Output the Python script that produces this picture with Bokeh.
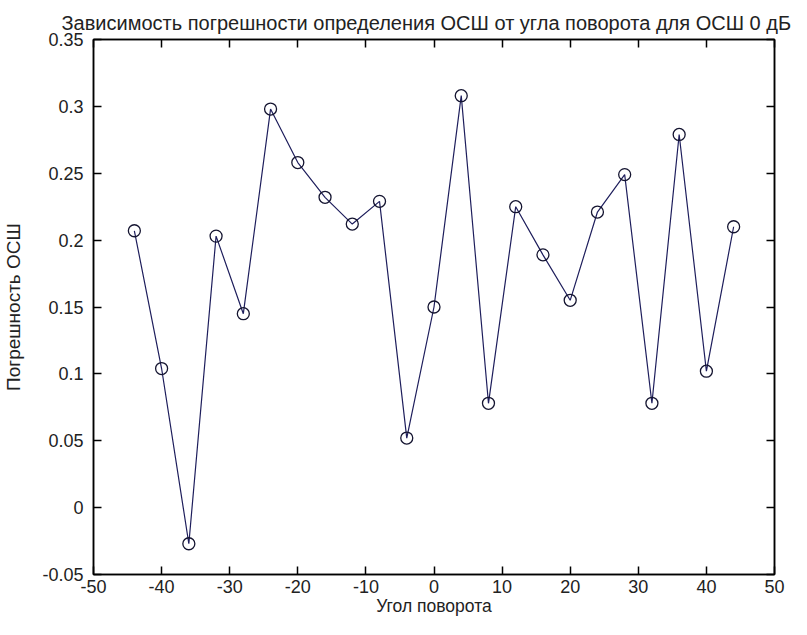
from bokeh.plotting import figure
from bokeh.models import LinearAxis, FixedTicker, Range1d
from bokeh.embed import file_html
from bokeh.resources import INLINE

# ---- data ----
angles = [-44, -40, -36, -32, -28, -24, -20, -16, -12, -8, -4, 0,
          4, 8, 12, 16, 20, 24, 28, 32, 36, 40, 44]
errors = [0.207, 0.104, -0.027, 0.203, 0.145, 0.298, 0.258, 0.232, 0.212,
          0.229, 0.052, 0.150, 0.308, 0.078, 0.225, 0.189, 0.155, 0.221,
          0.249, 0.078, 0.279, 0.102, 0.210]

x_ticks = [-50, -40, -30, -20, -10, 0, 10, 20, 30, 40, 50]
x_tick_labels = ["-50", "-40", "-30", "-20", "-10", "0", "10", "20", "30", "40", "50"]
y_ticks = [-0.05, 0.0, 0.05, 0.1, 0.15, 0.2, 0.25, 0.3, 0.35]
y_tick_labels = ["-0.05", "0", "0.05", "0.1", "0.15", "0.2", "0.25", "0.3", "0.35"]

title_text = "Зависимость погрешности определения ОСШ от угла поворота для ОСШ 0 дБ"
x_label = "Угол поворота"
y_label = "Погрешность ОСШ"

FONT = "Liberation Sans"
TXT = "#222222"

p = figure(width=791, height=619, output_backend="svg", toolbar_location=None,
           x_range=Range1d(-50, 50), y_range=Range1d(-0.05, 0.35),
           min_border_left=90, min_border_right=17, min_border_top=39,
           min_border_bottom=45, x_axis_label=x_label, y_axis_label=y_label)

p.background_fill_color = "white"
p.border_fill_color = "white"
p.outline_line_color = "black"
p.outline_line_width = 1.5
p.xgrid.visible = False
p.ygrid.visible = False

p.title.text = title_text
p.title.text_font = FONT
p.title.text_font_size = "20px"
p.title.text_font_style = "normal"
p.title.text_color = TXT
p.title.align = "left"
p.title.offset = -32
p.title.standoff = 12

xt = FixedTicker(ticks=x_ticks, minor_ticks=[])
yt = FixedTicker(ticks=y_ticks, minor_ticks=[])

bx = p.below[0]
ly = p.left[0]
bx.ticker = xt
ly.ticker = yt
bx.major_label_overrides = dict(zip(x_ticks, x_tick_labels))
ly.major_label_overrides = dict(zip(y_ticks, y_tick_labels))

for ax in (bx, ly):
    ax.axis_line_color = "black"
    ax.axis_line_width = 1.5
    ax.major_tick_line_color = "black"
    ax.major_tick_line_width = 1.5
    ax.major_tick_in = 8
    ax.major_tick_out = 0
    ax.minor_tick_in = 0
    ax.minor_tick_out = 0
    ax.major_label_text_font = FONT
    ax.major_label_text_font_size = "18px"
    ax.major_label_text_color = TXT
    ax.axis_label_text_font = FONT
    ax.axis_label_text_font_style = "normal"
    ax.axis_label_text_color = TXT

bx.axis_label_text_font_size = "17.5px"
ly.axis_label_text_font_size = "19px"
bx.major_label_standoff = 5
bx.axis_label_standoff = 0
ly.major_label_standoff = 10
ly.axis_label_standoff = 15

for loc, ticker in (("above", xt), ("right", yt)):
    ax = LinearAxis(ticker=ticker)
    ax.axis_line_color = "black"
    ax.axis_line_width = 1.5
    ax.major_tick_line_color = "black"
    ax.major_tick_line_width = 1.5
    ax.major_tick_in = 8
    ax.major_tick_out = 0
    ax.minor_tick_in = 0
    ax.minor_tick_out = 0
    ax.major_label_text_color = None
    ax.major_label_standoff = 0
    p.add_layout(ax, loc)

p.line(angles, errors, line_color="#1e1e5c", line_width=1.2)
p.scatter(angles, errors, marker="circle", size=12, fill_color=None,
          line_color="#141430", line_width=1.3)

open("out.html", "w").write(file_html(p, INLINE))
